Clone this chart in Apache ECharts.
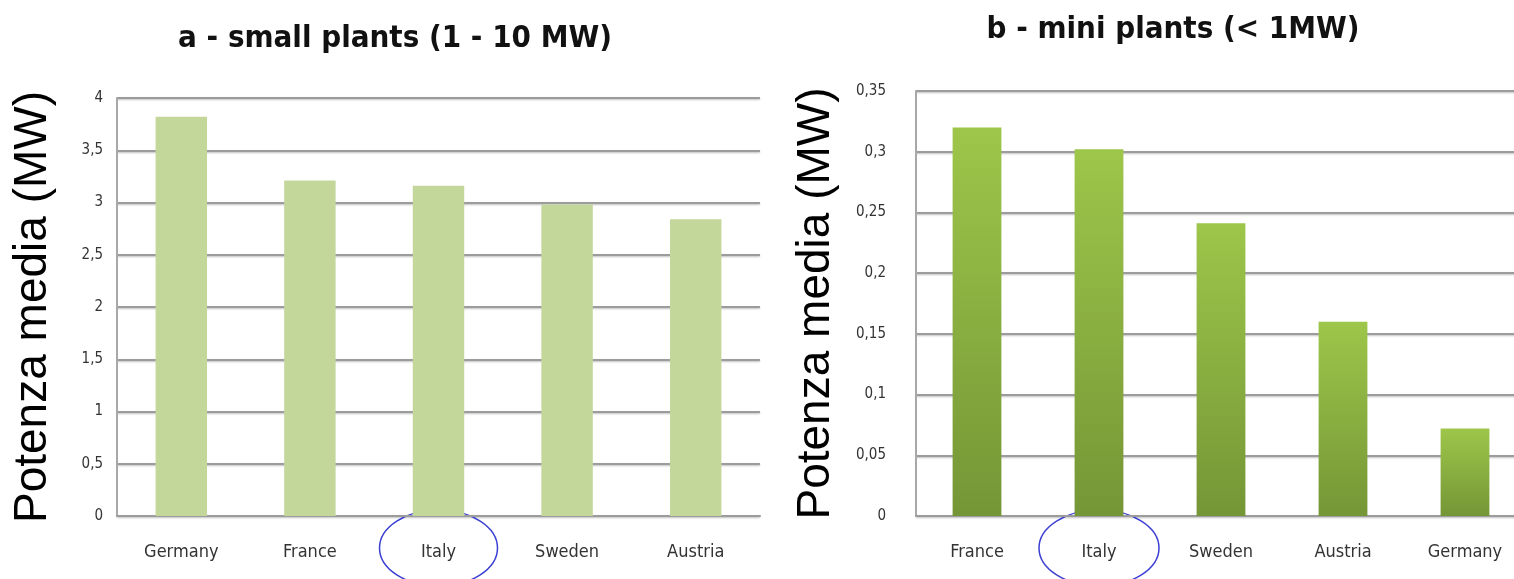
<!DOCTYPE html>
<html>
<head>
<meta charset="utf-8">
<script src="https://cdn.jsdelivr.net/npm/echarts@6/dist/echarts.min.js"></script>
<style>
  html, body { margin: 0; padding: 0; background: #fff; }
  #chart { width: 1514px; height: 579px; }
</style>
</head>
<body>
<div id="chart"></div>
<script>
// Average plant power by country
const smallCategories = ['Germany', 'France', 'Italy', 'Sweden', 'Austria'];
const smallValues = [3.82, 3.21, 3.16, 2.98, 2.84];
const smallTicks = ['0', '0,5', '1', '1,5', '2', '2,5', '3', '3,5', '4'];

const miniCategories = ['France', 'Italy', 'Sweden', 'Austria', 'Germany'];
const miniValues = [0.32, 0.302, 0.241, 0.16, 0.072];
const miniTicks = ['0', '0,05', '0,1', '0,15', '0,2', '0,25', '0,3', '0,35'];

const titles = ['a - small plants (1 - 10 MW)', 'b - mini plants (< 1MW)'];
const yName = 'Potenza media (MW)';
const highlight = 'Italy';

const narrow = '"Liberation Sans Narrow", "DejaVu Sans Condensed", "Open Sans", sans-serif';
const sans = '"Liberation Sans", Arial, sans-serif';

const splitLine = {
  show: true,
  lineStyle: { color: '#9c9c9c', width: 2, shadowColor: 'rgba(0,0,0,0.25)', shadowBlur: 2, shadowOffsetY: 1 }
};

function valueAxis(gridIndex, max, interval, ticks, margin, nameGap) {
  return {
    type: 'value', gridIndex, min: 0, max, interval,
    name: yName, nameLocation: 'middle', nameGap, nameRotate: 90,
    nameTextStyle: { fontFamily: sans, fontSize: 46, color: '#000' },
    axisLine: { show: true, lineStyle: { color: '#a8a8a8', width: 2 } },
    axisTick: { show: false },
    splitLine,
    axisLabel: {
      margin, color: '#333', fontFamily: narrow, fontSize: 15,
      formatter: (v) => ticks[Math.round(v / interval)]
    }
  };
}

function categoryAxis(gridIndex, data) {
  return {
    type: 'category', gridIndex, data,
    axisLine: { show: true, lineStyle: { color: '#9c9c9c', width: 2 } },
    axisTick: { show: false },
    axisLabel: { margin: 27, color: '#333', fontFamily: narrow, fontSize: 18 }
  };
}

const chart = echarts.init(document.getElementById('chart'), null, { renderer: 'canvas' });

chart.setOption({
  backgroundColor: '#ffffff',
  animation: false,
  grid: [
    { left: 117, top: 98, width: 643, height: 418, containLabel: false, outerBoundsMode: 'none' },
    { left: 916, top: 91, width: 610, height: 425, containLabel: false, outerBoundsMode: 'none' }
  ],
  xAxis: [categoryAxis(0, smallCategories), categoryAxis(1, miniCategories)],
  yAxis: [
    valueAxis(0, 4, 0.5, smallTicks, 14, 61),
    valueAxis(1, 0.35, 0.05, miniTicks, 30, 77)
  ],
  series: [
    {
      type: 'bar', xAxisIndex: 0, yAxisIndex: 0, data: smallValues,
      barWidth: '40%', itemStyle: { color: '#c4d79b' }
    },
    {
      type: 'bar', xAxisIndex: 1, yAxisIndex: 1, data: miniValues,
      barWidth: '40%',
      itemStyle: {
        color: new echarts.graphic.LinearGradient(0, 0, 0, 1, [
          { offset: 0, color: '#9dc64a' },
          { offset: 1, color: '#759636' }
        ])
      }
    }
  ]
});

// Titles above each panel and circles around the highlighted country label
const p0 = chart.convertToPixel({ xAxisIndex: 0 }, highlight);
const p1 = chart.convertToPixel({ xAxisIndex: 1 }, highlight);
const titleStyle = { fontFamily: narrow, fontSize: 31, fontWeight: 'bold', fill: '#111', align: 'center', verticalAlign: 'middle' };

chart.setOption({
  graphic: [
    { type: 'text', x: 395, y: 39, style: Object.assign({ text: titles[0] }, titleStyle) },
    { type: 'text', x: 1173, y: 30, style: Object.assign({ text: titles[1] }, titleStyle) },
    { type: 'ellipse', shape: { cx: p0, cy: 548, rx: 59, ry: 38 }, style: { fill: 'none', stroke: '#3b40d2', lineWidth: 1.5 } },
    { type: 'ellipse', shape: { cx: p1, cy: 548, rx: 60, ry: 38 }, style: { fill: 'none', stroke: '#3b40d2', lineWidth: 1.5 } }
  ]
});
</script>
</body>
</html>
